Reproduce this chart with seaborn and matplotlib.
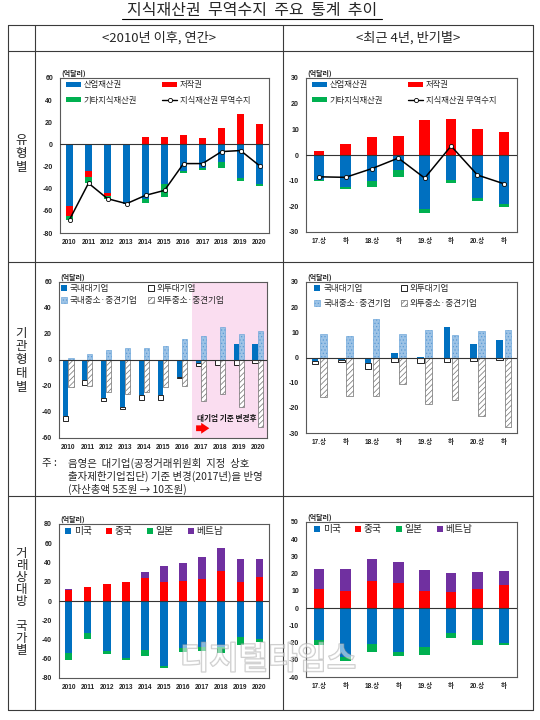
import numpy as np
import pandas as pd
import matplotlib
matplotlib.use('Agg')
import matplotlib.pyplot as plt
import matplotlib.transforms as mtransforms
import matplotlib.patheffects as pe
from matplotlib.patches import Patch
from matplotlib.lines import Line2D
import seaborn as sns

sns.set_theme(style='white')
plt.rcParams['font.family'] = ['Noto Sans CJK KR', 'DejaVu Sans']
plt.rcParams['axes.unicode_minus'] = False
plt.rcParams['hatch.linewidth'] = 0.5

# ---------------- data ----------------
years = ['2010', '2011', '2012', '2013', '2014', '2015', '2016', '2017', '2018', '2019', '2020']
half_keys = ['17.상', '17.하', '18.상', '18.하', '19.상', '19.하', '20.상', '20.하']
half_labels = ['17.상', '하', '18.상', '하', '19.상', '하', '20.상', '하']

# 유형별 (annual)
ind_y = [-55.5, -24.0, -44.0, -54.0, -49.5, -36.0, -24.0, -21.5, -16.0, -30.0, -35.8]
cop_y = [-9.0, -5.0, -3.0, 0.5, 6.5, 6.8, 8.5, 5.8, 14.5, 27.5, 18.5]
oth_y = [-4.0, -5.5, -2.0, 0.0, -3.0, -11.5, -1.5, -1.8, -5.0, -3.0, -1.7]
bal_y = [-68.0, -35.0, -49.0, -53.5, -46.0, -41.5, -17.3, -17.3, -6.5, -5.5, -19.2]
# 유형별 (half-year)
ind_h = [-9.6, -12.4, -10.0, -5.8, -21.0, -9.6, -16.8, -18.9]
cop_h = [1.6, 4.3, 7.0, 7.5, 13.5, 14.0, 10.1, 8.8]
oth_h = [-0.6, -0.7, -2.6, -2.9, -1.6, -1.2, -1.2, -1.3]
bal_h = [-8.5, -8.7, -5.3, -1.2, -9.0, 3.5, -7.8, -11.2]

# 기관형태별 (annual)
dom_large_y = [-43.4, -15.6, -29.6, -36.4, -27.3, -27.3, -13.2, -2.3, -0.3, 12.2, 12.2]
for_large_y = [-3.9, -3.9, -1.8, -1.3, -3.7, -3.1, -0.5, -2.1, -3.5, -3.8, -2.3]
dom_sme_y = [1.6, 4.9, 7.5, 9.4, 9.4, 10.9, 16.4, 18.7, 25.0, 20.0, 22.6]
for_sme_y = [-21.0, -20.0, -25.0, -26.0, -25.0, -20.5, -20.0, -31.4, -26.5, -35.8, -51.4]
# 기관형태별 (half-year)
dom_large_h = [-1.4, -1.0, -2.3, 1.7, 0.3, 12.0, 5.3, 6.8]
for_large_h = [-1.1, -0.9, -2.2, -1.6, -2.2, -1.6, -1.3, -1.0]
dom_sme_h = [9.2, 8.7, 15.2, 9.2, 10.9, 8.8, 10.6, 10.9]
for_sme_h = [-15.6, -15.2, -15.2, -10.5, -18.3, -16.9, -23.2, -27.7]

# 거래상대방 국가별 (annual)
us_y = [-54.0, -32.8, -52.0, -59.7, -51.0, -67.6, -49.3, -47.6, -47.6, -37.6, -39.3]
cn_y = [11.7, 14.8, 17.2, 20.0, 23.4, 19.3, 20.3, 22.4, 31.0, 19.3, 24.8]
jp_y = [-7.6, -6.9, -3.5, -1.3, -6.2, -2.4, -3.8, -4.4, -6.9, -7.6, -3.1]
vn_y = [0.3, 0.0, 0.3, 0.0, 6.6, 16.9, 18.7, 23.1, 24.5, 24.1, 18.6]
# 거래상대방 국가별 (half-year)
us_h = [-18.5, -28.5, -20.6, -25.6, -22.7, -14.6, -18.7, -20.2]
cn_h = [11.2, 9.8, 15.8, 14.4, 10.2, 9.4, 11.3, 13.7]
jp_h = [-2.7, -2.3, -5.0, -2.3, -4.8, -2.9, -2.5, -1.0]
vn_h = [11.5, 12.7, 12.5, 12.3, 11.9, 11.2, 9.7, 7.8]

# ---------------- styles ----------------
BLUE = '#0070C0'
RED = '#FF0000'
GREEN = '#00B050'
PURPLE = '#7030A0'
LBLUE = '#9DC3E6'
PINK = '#FADDF0'
FRAME = '#595959'
TICKFONT = ['Liberation Sans', 'Noto Sans CJK KR']

S_BLUE = dict(fc=BLUE)
S_RED = dict(fc=RED)
S_GREEN = dict(fc=GREEN)
S_PURPLE = dict(fc=PURPLE)
S_WHITE = dict(fc='white', ec='black', lw=0.6)
S_LBLUE = dict(fc=LBLUE, ec='#5B9BD5', lw=0.4, hatch='.....')
S_GRAYH = dict(fc='white', ec='#6E6E6E', lw=0.5, hatch='//////')

W, H = 540, 720
fig = plt.figure(figsize=(W / 100, H / 100), dpi=100)


def rect(x0, y0, x1, y1):
    return [x0 / W, 1 - y1 / H, (x1 - x0) / W, (y1 - y0) / H]


bg = fig.add_axes([0, 0, 1, 1])
bg.set_xlim(0, W)
bg.set_ylim(H, 0)
bg.axis('off')

# table frame
LC = '#3A3A3A'
for y in [25, 51, 262, 496, 710]:
    bg.plot([8, 533], [y, y], color=LC, lw=0.8)
for x in [8, 35, 283, 533]:
    bg.plot([x, x], [25, 710], color=LC, lw=0.8)

bg.text(252, 10, '지식재산권  무역수지  주요  통계  추이', ha='center', va='center', fontsize=11.5)
bg.plot([122, 382], [18.5, 18.5], color='black', lw=0.8)
bg.text(159, 37.5, '<2010년 이후, 연간>', ha='center', va='center', fontsize=9.5)
bg.text(408, 37.5, '<최근 4년, 반기별>', ha='center', va='center', fontsize=9.5)

bg.text(21.5, 154, '유\n형\n별', ha='center', va='center', fontsize=9, linespacing=1.05)
bg.text(21.5, 360, '기\n관\n형\n태\n별', ha='center', va='center', fontsize=9, linespacing=1.05)
bg.text(21.5, 602, '거\n래\n상\n대\n방\n\n국\n가\n별', ha='center', va='center', fontsize=9,
        linespacing=0.92)

bg.text(42, 463, '주 :', ha='left', va='center', fontsize=7.5)
bg.text(68, 463, '음영은  대기업(공정거래위원회  지정  상호', ha='left', va='center', fontsize=7.5)
bg.text(68, 476.5, '출자제한기업집단) 기준 변경(2017년)을 반영', ha='left', va='center', fontsize=7.5)
bg.text(68, 489, '(자산총액 5조원 → 10조원)', ha='left', va='center', fontsize=7.5)


def draw_layers(ax, keys, layers, width, offset=0.0):
    """Stack bars: positives upward from 0, negatives downward from 0, in series order."""
    n = len(keys)
    pos = np.zeros(n)
    neg = np.zeros(n)
    trans = mtransforms.Affine2D().translate(offset, 0) + ax.transData
    for vals, st in layers:
        vals = np.asarray(vals, dtype=float)
        bottom = np.where(vals >= 0, pos, neg)
        df = pd.DataFrame({'cat': keys, 'val': vals})
        sns.barplot(data=df, x='cat', y='val', order=keys, ax=ax, color=st['fc'],
                    saturation=1, errorbar=None, width=width, bottom=bottom,
                    edgecolor=st.get('ec', 'none'), linewidth=st.get('lw', 0),
                    hatch=st.get('hatch'), zorder=2, transform=trans)
        pos += np.clip(vals, 0, None)
        neg += np.clip(vals, None, 0)


def style_axis(ax, labels, lo, hi, step):
    ax.set_xlim(-0.5, len(labels) - 0.5)
    ax.set_ylim(lo, hi)
    ticks = list(range(lo, hi + 1, step))
    ax.set_yticks(ticks, labels=[str(t) for t in ticks], fontsize=5, fontweight='bold',
                  family=TICKFONT, color='#222222')
    ax.set_xticks(range(len(labels)), labels=labels, fontsize=4.7, fontweight='bold',
                  family=TICKFONT, color='#222222')
    ax.tick_params(axis='both', length=0)
    ax.tick_params(axis='y', pad=5)
    ax.tick_params(axis='x', pad=4)
    ax.set_xlabel('')
    ax.set_ylabel('')
    for sp in ax.spines.values():
        sp.set_visible(True)
        sp.set_color(FRAME)
        sp.set_linewidth(0.8)
    ax.axhline(0, color='#333333', lw=0.8, zorder=3)
    ax.text(0.005, 1.004, '(억달러)', transform=ax.transAxes, ha='left', va='bottom',
            fontsize=5, fontweight='bold', color='#222222')


def hpatch(st):
    return Patch(facecolor=st['fc'], edgecolor=st.get('ec', 'none'),
                 linewidth=st.get('lw', 0), hatch=st.get('hatch'))


# ---------- 유형별 ----------
ax_tl = fig.add_axes(rect(60, 78, 269, 233))
ax_tr = fig.add_axes(rect(306, 78, 517, 232))
for ax, keys, labels, ind, cop, oth, bal, lo, hi, step, wd in [
        (ax_tl, years, years, ind_y, cop_y, oth_y, bal_y, -80, 60, 20, 0.42),
        (ax_tr, half_keys, half_labels, ind_h, cop_h, oth_h, bal_h, -30, 30, 10, 0.40)]:
    draw_layers(ax, keys, [(ind, S_BLUE), (cop, S_RED), (oth, S_GREEN)], wd)
    sns.lineplot(x=np.arange(len(keys)), y=bal, ax=ax, color='black', lw=1.1, marker='o',
                 markersize=3, markerfacecolor='white', markeredgecolor='black',
                 markeredgewidth=0.6, zorder=5, legend=False)
    style_axis(ax, labels, lo, hi, step)
    handles = [hpatch(S_BLUE), hpatch(S_GREEN), hpatch(S_RED),
               Line2D([0], [0], color='black', lw=1, marker='o', markersize=3,
                      markerfacecolor='white', markeredgecolor='black', markeredgewidth=0.6)]
    names = ['산업재산권', '기타지식재산권', '저작권', '지식재산권 무역수지']
    ax.legend(handles, names, ncol=2, loc='upper left', bbox_to_anchor=(0.03, 0.985),
              frameon=False, fontsize=6, handlelength=1.8, handleheight=0.6,
              handletextpad=0.3, columnspacing=3.0, labelspacing=0.75,
              borderaxespad=0, borderpad=0)

# ---------- 기관형태별 ----------
ax_ml = fig.add_axes(rect(59, 282, 267, 438))
ax_mr = fig.add_axes(rect(306, 282, 517, 433))
ax_ml.axvspan(6.55, 10.5, color=PINK, lw=0, zorder=0)
for ax, keys, labels, dl, fl, ds, fs_, lo, hi, step, wd, off, bba, lsp in [
        (ax_ml, years, years, dom_large_y, for_large_y, dom_sme_y, for_sme_y, -60, 60, 20,
         0.27, 0.135, (0.01, 0.985), 0.35),
        (ax_mr, half_keys, half_labels, dom_large_h, for_large_h, dom_sme_h, for_sme_h,
         -30, 30, 10, 0.25, 0.155, (0.04, 0.985), 0.7)]:
    draw_layers(ax, keys, [(dl, S_BLUE), (fl, S_WHITE)], wd, offset=-off)
    draw_layers(ax, keys, [(ds, S_LBLUE), (fs_, S_GRAYH)], wd, offset=off)
    style_axis(ax, labels, lo, hi, step)
    handles = [hpatch(S_BLUE), hpatch(S_LBLUE), hpatch(S_WHITE), hpatch(S_GRAYH)]
    names = ['국내대기업', '국내중소·중견기업', '외투대기업', '외투중소·중견기업']
    ax.legend(handles, names, ncol=2, loc='upper left', bbox_to_anchor=bba,
              frameon=False, fontsize=6.2, handlelength=0.7, handleheight=0.7,
              handletextpad=0.3, columnspacing=1.2, labelspacing=lsp,
              borderaxespad=0, borderpad=0)

ax_ml.text(6.78, -45, '대기업 기준 변경후', fontsize=5.5, fontweight='bold', ha='left',
           va='center', zorder=6, color='#111111')
ax_ml.annotate('', xy=(7.45, -52.5), xytext=(6.75, -52.5),
               arrowprops=dict(arrowstyle='simple,head_length=0.45,head_width=0.6,tail_width=0.32',
                               color='red', lw=0, mutation_scale=13, shrinkA=0, shrinkB=0),
               zorder=6)

# ---------- 거래상대방 국가별 ----------
ax_bl = fig.add_axes(rect(59, 524, 269, 678))
ax_br = fig.add_axes(rect(306, 522, 517, 677))
for ax, keys, labels, us, cn, jp, vn, lo, hi, step, bba in [
        (ax_bl, years, years, us_y, cn_y, jp_y, vn_y, -80, 80, 20, (0.03, 0.985)),
        (ax_br, half_keys, half_labels, us_h, cn_h, jp_h, vn_h, -40, 50, 10, (0.04, 0.985))]:
    draw_layers(ax, keys, [(us, S_BLUE), (cn, S_RED), (jp, S_GREEN), (vn, S_PURPLE)], 0.40)
    style_axis(ax, labels, lo, hi, step)
    handles = [hpatch(S_BLUE), hpatch(S_RED), hpatch(S_GREEN), hpatch(S_PURPLE)]
    names = ['미국', '중국', '일본', '베트남']
    ax.legend(handles, names, ncol=4, loc='upper left', bbox_to_anchor=bba,
              frameon=False, fontsize=7, handlelength=0.6, handleheight=0.6,
              handletextpad=0.25, columnspacing=1.5, borderaxespad=0, borderpad=0)

# watermark
fig.text(268 / W, 1 - 660 / H, '디지털타임스', ha='center', va='center', fontsize=23,
         fontweight='bold', color=(1, 1, 1, 0.3), zorder=10,
         path_effects=[pe.Stroke(linewidth=1.0, foreground=(0.6, 0.6, 0.6, 0.5)), pe.Normal()])

fig.savefig('out.png', dpi=100)
